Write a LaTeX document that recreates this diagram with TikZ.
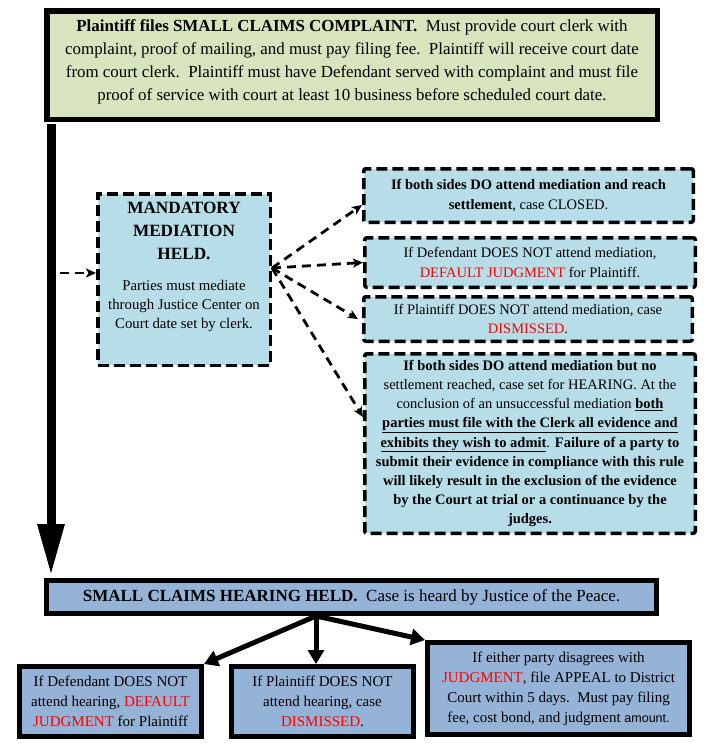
\documentclass[tikz,border=0pt]{standalone}
\usepackage{fontspec}
\setmainfont{LiberationSerif}[Extension=.ttf, UprightFont=*-Regular, BoldFont=*-Bold, ItalicFont=*-Italic, BoldItalicFont=*-BoldItalic]
\newfontfamily\sansf{Liberation Sans}
\usetikzlibrary{arrows.meta,calc}
\definecolor{topgreen}{HTML}{D7E4BD}
\definecolor{medblue}{HTML}{B7DDE8}
\definecolor{hearblue}{HTML}{95B3D7}
\definecolor{redtxt}{HTML}{FF0000}
\newcommand{\rd}[1]{\textcolor{redtxt}{#1}}
\begin{document}
\begin{tikzpicture}[x=1pt,y=-1pt,
  solidbox/.style={draw=black, line width=5pt, inner sep=0pt, align=center},
  dashbox/.style={draw=black, line width=3.5pt, dash pattern=on 11pt off 5pt, fill=medblue, inner sep=0pt, align=center, rounded corners=2pt},
  darrow/.style={line width=2.8pt, dash pattern=on 9pt off 6pt, -{Stealth[length=10pt,width=9pt,inset=2.5pt]}},
  sarrow/.style={line width=5pt, -{Triangle[length=14pt,width=16pt]}},
  bigarrow/.style={line width=9pt, -{Triangle[length=52pt,width=25pt]}},
  ftop/.style={font=\fontsize{16.9}{23}\selectfont},
  fhear/.style={font=\fontsize{17}{23}\selectfont},
  fright/.style={font=\fontsize{14.5}{19.2}\selectfont},
  fmed/.style={font=\fontsize{14.8}{19}\selectfont},
  fbot/.style={font=\fontsize{15}{20}\selectfont},
]
\useasboundingbox (0,0) rectangle (709,748);

% top box
\node[solidbox, line width=5.5pt, fill=topgreen, minimum width=610.5pt, minimum height=108.5pt] (top) at (352,65) {};
\node[ftop, align=center, inner sep=0pt] (toptxt) at (352,62)
 {\textbf{Plaintiff files SMALL CLAIMS COMPLAINT.}\ \ Must provide court clerk with\\
  complaint, proof of mailing, and must pay filing fee.\ \ Plaintiff will receive court date\\
  from court clerk.\ \ Plaintiff must have Defendant served with complaint and must file\\
  proof of service with court at least 10 business before scheduled court date.};

% mediation box
\node[dashbox, rounded corners=0pt, minimum width=172.5pt, minimum height=171.5pt] (med) at (184,279.5) {};
\node[font=\fontsize{17.2}{23}\selectfont\bfseries, align=center, inner sep=0pt] (medtitle) at (184,231) {MANDATORY\\MEDIATION\\HELD.};
\node[fmed, align=center, inner sep=0pt] (medbody) at (184,306) {Parties must mediate\\through Justice Center on\\Court date set by clerk.};

% right boxes
\node[dashbox, minimum width=329.5pt, minimum height=53.5pt, fright] (b1) at (528.5,195.5)
 {\textbf{If both sides DO attend mediation and reach}\\\textbf{settlement}, case CLOSED.};
\node[dashbox, minimum width=330.5pt, minimum height=49.5pt, fright] (b2) at (530,262.5)
 {If Defendant DOES NOT attend mediation,\\\rd{DEFAULT JUDGMENT} for Plaintiff.};
\node[dashbox, minimum width=328.5pt, minimum height=44.5pt, fright] (b3) at (528,319)
 {If Plaintiff DOES NOT attend mediation, case\\\rd{DISMISSED}.};
\node[dashbox, minimum width=330.5pt, minimum height=179.5pt, fright] (b4) at (530,443.5)
 {\textbf{If both sides DO attend mediation but no}\\
  settlement reached, case set for HEARING. At the\\
  conclusion of an unsuccessful mediation \textbf{\underline{both}}\\
  \textbf{\underline{parties must file with the Clerk all evidence and}}\\
  \textbf{\underline{exhibits they wish to admit}}. \textbf{Failure of a party to}\\
  \textbf{submit their evidence in compliance with this rule}\\
  \textbf{will likely result in the exclusion of the evidence}\\
  \textbf{by the Court at trial or a continuance by the}\\
  \textbf{judges.}};

% hearing box
\node[solidbox, fill=hearblue, minimum width=610pt, minimum height=33pt, fhear] (hear) at (351.5,597)
 {\textbf{SMALL CLAIMS HEARING HELD.}\ \ Case is heard by Justice of the Peace.};

% bottom boxes
\node[solidbox, fill=hearblue, minimum width=182pt, minimum height=70pt, fbot] (bl) at (110.5,701.5)
 {If Defendant DOES NOT\\attend hearing, \rd{DEFAULT}\\\rd{JUDGMENT} for Plaintiff};
\node[solidbox, fill=hearblue, minimum width=182pt, minimum height=70pt, fbot] (bm) at (322.5,701.5)
 {If Plaintiff DOES NOT\\attend hearing, case\\\rd{DISMISSED}.};
\node[solidbox, fill=hearblue, minimum width=262pt, minimum height=92pt, fbot] (br) at (558.5,688.5)
 {If either party disagrees with\\\rd{JUDGMENT}, file APPEAL to District\\Court within 5 days.\ \ Must pay filing\\fee, cost bond, and judgment {\sansf\fontsize{12.5}{15}\selectfont amount.}};

% connectors
\coordinate (vtop) at (51,124);
\draw[bigarrow, shorten >=2pt] (vtop) -- (vtop |- hear.north);

\coordinate (entry) at (60,273);
\draw[darrow] (entry) -- (entry -| med.west);

\coordinate (medout) at (272,268);
\draw[darrow] (medout) -- ([yshift=-9.5pt]b1.west);
\draw[darrow] (medout) -- (b2.west);
\draw[darrow] (medout) -- ([xshift=-4pt]b3.west);
\draw[darrow] (medout) -- ([yshift=26.5pt]b4.west);

\coordinate (hs) at (316,616);
\draw[sarrow] (hs) -- (bl.north east);
\draw[sarrow] (hs) -- (hs |- bm.north);
\draw[sarrow] (hs) -- (br.north west);
\end{tikzpicture}
\end{document}
